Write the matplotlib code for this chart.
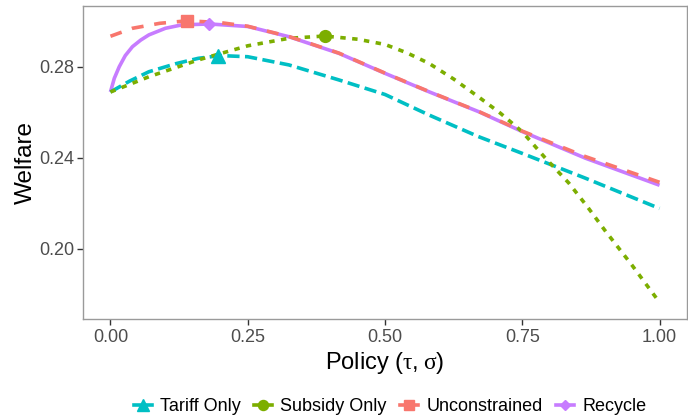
import matplotlib
matplotlib.use("Agg")
import matplotlib.pyplot as plt
from matplotlib.lines import Line2D

plt.rcParams['font.family'] = ['Liberation Sans', 'DejaVu Sans']
plt.rcParams['mathtext.fontset'] = 'custom'
plt.rcParams['mathtext.rm'] = 'Liberation Sans'
plt.rcParams['mathtext.it'] = 'Liberation Serif'

# Welfare along the policy grid for each regime
tariff_x = [0.0, 0.035, 0.07, 0.12, 0.16, 0.20, 0.25, 0.325, 0.416, 0.50, 0.58, 0.67, 0.75, 0.865, 1.0]
tariff_y = [0.269, 0.2738, 0.2779, 0.2815, 0.2838, 0.2850, 0.2845, 0.2809, 0.2743, 0.2679, 0.2589, 0.2494, 0.2420, 0.2311, 0.2178]

subsidy_x = [0.0, 0.07, 0.16, 0.25, 0.325, 0.39, 0.45, 0.50, 0.54, 0.58, 0.625, 0.67, 0.71, 0.75, 0.79,
             0.835, 0.87, 0.90, 0.95, 1.0]
subsidy_y = [0.269, 0.2757, 0.2831, 0.2893, 0.2926, 0.2936, 0.2922, 0.2899, 0.2862, 0.2816, 0.2747, 0.2669,
             0.2597, 0.2515, 0.2405, 0.2289, 0.2181, 0.2083, 0.1928, 0.1765]

uncon_x = [0.0, 0.04, 0.09, 0.14, 0.20, 0.25, 0.325, 0.416, 0.50, 0.58, 0.67, 0.75, 0.865, 1.0]
uncon_y = [0.2935, 0.2970, 0.2992, 0.3003, 0.2995, 0.2979, 0.2934, 0.2861, 0.2773, 0.2692, 0.2605, 0.2518, 0.2406, 0.2293]

recycle_x = [0.0, 0.007, 0.016, 0.027, 0.04, 0.055, 0.07, 0.10, 0.13, 0.18, 0.25, 0.325, 0.416, 0.50, 0.58,
             0.67, 0.75, 0.865, 1.0]
recycle_y = [0.269, 0.2750, 0.2801, 0.2850, 0.2889, 0.2918, 0.2941, 0.2970, 0.2985, 0.2989, 0.2978, 0.2933,
             0.2860, 0.2772, 0.2691, 0.2604, 0.2516, 0.2399, 0.2280]

# Optimal policy for each regime
opt_x = [0.196, 0.39, 0.14, 0.18]
opt_y = [0.2848, 0.2936, 0.3003, 0.2989]

labels = ["Tariff Only", "Subsidy Only", "Unconstrained", "Recycle"]
colors = ["#00BFC4", "#7CAE00", "#F8766D", "#C77CFF"]
markers = ["^", "o", "s", "D"]
msizes = [10, 8.5, 8, 6.5]

fig = plt.figure(figsize=(6.88, 4.20), dpi=100)
ax = fig.add_axes([83 / 688, 1 - 319 / 420, 604 / 688, 313 / 420])

lw = 2.6
ax.plot(recycle_x, recycle_y, color=colors[3], lw=lw, solid_capstyle="butt", zorder=2)
ax.plot(tariff_x, tariff_y, color=colors[0], lw=lw, dashes=(3.4, 1.5), zorder=3)
ax.plot(subsidy_x, subsidy_y, color=colors[1], lw=lw, dashes=(1.5, 1.8), zorder=3)
ax.plot(uncon_x, uncon_y, color=colors[2], lw=lw, dashes=(3.3, 3.0), zorder=4)

for i in range(4):
    ax.plot(opt_x[i], opt_y[i], marker=markers[i], color=colors[i],
            markersize=msizes[i], linestyle="none", zorder=5)

ax.set_xlim(-0.05, 1.05)
ax.set_ylim(0.1692, 0.3068)
ax.set_xticks([0.0, 0.25, 0.5, 0.75, 1.0])
ax.set_xticklabels(["0.00", "0.25", "0.50", "0.75", "1.00"])
ax.set_yticks([0.20, 0.24, 0.28])
ax.set_yticklabels(["0.20", "0.24", "0.28"])

for s in ax.spines.values():
    s.set_color("#9A9A9A")
    s.set_linewidth(1.0)
ax.tick_params(axis="both", colors="#333333", length=4, width=1.0,
               labelsize=13, labelcolor="#4D4D4D")
ax.tick_params(axis="y", pad=2)
ax.tick_params(axis="x", pad=3)

ax.set_xlabel(r"$\mathrm{Policy\ (}\tau\mathrm{,}\;\sigma\mathrm{)}$", fontsize=17, labelpad=3)
ax.set_ylabel("Welfare", fontsize=17.5, labelpad=2)

handles = [Line2D([0], [0], color=colors[i], lw=lw, marker=markers[i],
                  markersize=msizes[i] * 0.85) for i in range(4)]
fig.legend(handles, labels, loc="center", bbox_to_anchor=(0.567, 0.031),
           ncol=4, frameon=False, fontsize=13, handlelength=1.0,
           handletextpad=0.45, columnspacing=0.75, borderaxespad=0)

fig.savefig("out.png", dpi=100)
